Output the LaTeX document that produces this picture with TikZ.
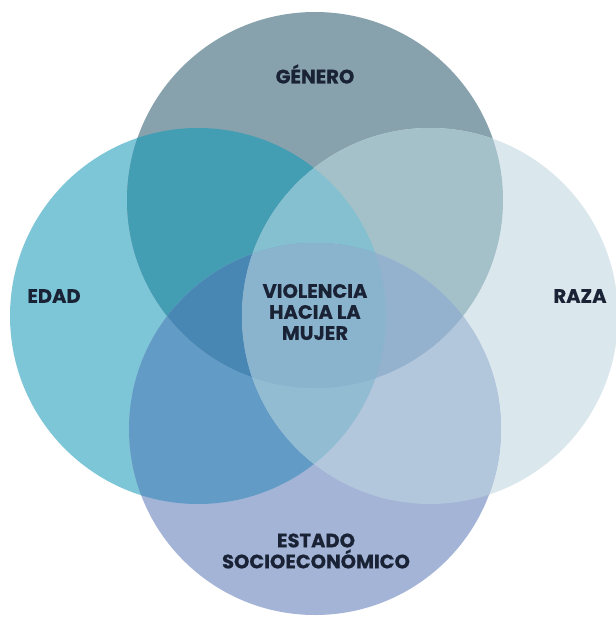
\documentclass[tikz,border=0pt]{standalone}
\usepackage{fontspec}
\setmainfont{Poppins}[BoldFont={* Bold},BoldFeatures={FakeBold=0.5}]
\definecolor{cL}{HTML}{7DC6D7}
\definecolor{cT}{HTML}{87A2AD}
\definecolor{cR}{HTML}{DAE7EC}
\definecolor{cB}{HTML}{A3B4D6}
\definecolor{cLT}{HTML}{439EB4}
\definecolor{cLR}{HTML}{8FC3D3}
\definecolor{cLB}{HTML}{629CC6}
\definecolor{cTR}{HTML}{A4C0C8}
\definecolor{cTB}{HTML}{8AB4CD}
\definecolor{cRB}{HTML}{B2C6DC}
\definecolor{cLTR}{HTML}{84C0D0}
\definecolor{cLTB}{HTML}{4886B4}
\definecolor{cLRB}{HTML}{91BCD2}
\definecolor{cTRB}{HTML}{94B2CD}
\definecolor{cLTRB}{HTML}{8AB4CD}
\definecolor{txt}{HTML}{1A2235}
\def\CL{(198,316) circle[radius=188pt]}
\def\CT{(315,200) circle[radius=188pt]}
\def\CR{(430,316) circle[radius=188pt]}
\def\CB{(315,429) circle[radius=186pt]}
\tikzset{lbl/.style={font=\fontsize{19.5}{21}\selectfont\bfseries, text=txt, align=center, inner sep=0pt}}
\begin{document}
\begin{tikzpicture}[x=1pt,y=-1pt]
\useasboundingbox (0,0) rectangle (616,622);
\fill[white] (0,0) rectangle (616,622);
% singles
\fill[cL] \CL; \fill[cT] \CT; \fill[cR] \CR; \fill[cB] \CB;
% pairs
\begin{scope}\clip \CL; \fill[cLT] \CT; \end{scope}
\begin{scope}\clip \CL; \fill[cLR] \CR; \end{scope}
\begin{scope}\clip \CL; \fill[cLB] \CB; \end{scope}
\begin{scope}\clip \CT; \fill[cTR] \CR; \end{scope}
\begin{scope}\clip \CT; \fill[cTB] \CB; \end{scope}
\begin{scope}\clip \CR; \fill[cRB] \CB; \end{scope}
% triples
\begin{scope}\clip \CL; \clip \CT; \fill[cLTR] \CR; \end{scope}
\begin{scope}\clip \CL; \clip \CT; \fill[cLTB] \CB; \end{scope}
\begin{scope}\clip \CL; \clip \CR; \fill[cLRB] \CB; \end{scope}
\begin{scope}\clip \CT; \clip \CR; \fill[cTRB] \CB; \end{scope}
% all four
\begin{scope}\clip \CL; \clip \CT; \clip \CR; \fill[cLTRB] \CB; \end{scope}
% labels
\node[lbl] (genero) at (315,74) {GÉNERO};
\node[lbl] (edad) at (54,296) {EDAD};
\node[lbl] (raza) at (580,296) {RAZA};
\node[lbl] (centro) at (315,312) {VIOLENCIA\\HACIA LA\\MUJER};
\node[lbl] (estado) at (316,551) {ESTADO\\SOCIOECONÓMICO};
\end{tikzpicture}
\end{document}
